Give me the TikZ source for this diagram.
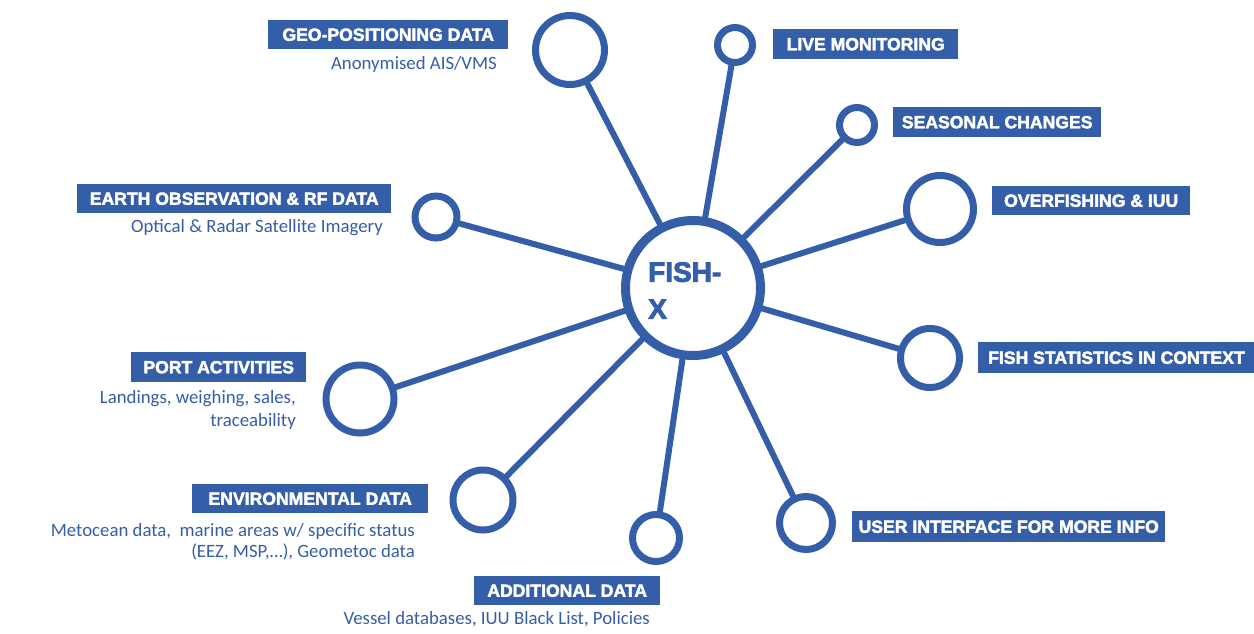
\documentclass[tikz,border=0pt]{standalone}
\usepackage{fontspec}
\setmainfont{Carlito}
\newfontfamily\headfont{Liberation Sans}[BoldFeatures={FakeBold=2.5}]
\newfontfamily\hubfont{Liberation Sans}[BoldFeatures={FakeBold=3}]
\usetikzlibrary{backgrounds}
\definecolor{fx}{RGB}{52,94,168}
\begin{document}
\begin{tikzpicture}[x=1pt,y=-1pt,
  sat/.style={circle, draw=fx, line width=7pt, fill=white, inner sep=0pt, minimum size=#1},
  hubst/.style={circle, draw=fx, line width=9pt, fill=white, inner sep=0pt, minimum size=135pt},
  link/.style={draw=fx, line width=6pt, shorten <=-3pt, shorten >=-3pt},
  head/.style={fill=fx, text=white, font=\headfont\bfseries\fontsize{17.6}{20}\selectfont, inner sep=0pt, anchor=north west, minimum height=#1},
  head/.default=29pt,
  sub/.style={text=fx, font=\fontsize{18.8}{22}\selectfont, inner sep=0pt, anchor=base east}]
\useasboundingbox (0,0) rectangle (1254,633);

% hub
\node[hubst] (hub) at (693,288) {};
\node[text=fx, font=\hubfont\bfseries\fontsize{28}{37}\selectfont, align=left, inner sep=0pt, anchor=north west] (hubtext) at (648,262) {FISH-\\X};

% satellites
\node[sat=69pt] (geo) at (570,50) {};
\node[sat=35pt] (live) at (735,45) {};
\node[sat=35pt] (seas) at (857,125) {};
\node[sat=67pt] (over) at (940,209) {};
\node[sat=59pt] (stats) at (930,358) {};
\node[sat=53pt] (user) at (806,523) {};
\node[sat=47pt] (add) at (656,538) {};
\node[sat=60pt] (env) at (483,500) {};
\node[sat=68pt] (port) at (360,399) {};
\node[sat=42pt] (earth) at (436,217) {};

\begin{scope}[on background layer]
\foreach \s in {geo,live,seas,over,stats,user,add,env,port,earth}
  \draw[link] (\s) -- (hub);
\end{scope}

% headings
\node[head, minimum width=240pt] (geoh) at (268,20) {GEO-POSITIONING DATA};
\node[head=30pt, minimum width=185pt] (liveh) at (773,29) {LIVE MONITORING};
\node[head=30pt, minimum width=208pt] (seash) at (893,107) {SEASONAL CHANGES};
\node[head, minimum width=198pt] (overh) at (992,186) {OVERFISHING \& IUU};
\node[head=31pt, inner xsep=10pt] (statsh) at (978,342) {FISH STATISTICS IN CONTEXT};
\node[head=31pt, minimum width=313pt] (userh) at (852,511) {USER INTERFACE FOR MORE INFO};
\node[head, minimum width=186pt] (addh) at (474,576) {ADDITIONAL DATA};
\node[head, minimum width=236pt] (envh) at (192,484) {ENVIRONMENTAL DATA};
\node[head, minimum width=314pt] (earthh) at (77,184) {EARTH OBSERVATION \& RF DATA};
\node[head=30pt, minimum width=175pt] (porth) at (131,352) {PORT ACTIVITIES};

% subtitles
\node[sub] (geos) at (497,69) {Anonymised AIS/VMS};
\node[sub] (earths) at (383,232) {Optical \& Radar Satellite Imagery};
\node[sub] (portsa) at (296,403) {Landings, weighing, sales,};
\node[sub] (portsb) at (296,426) {traceability};
\node[sub] (envsa) at (415,536) {Metocean data,~ marine areas w/ specific status};
\node[sub] (envsb) at (415,557) {(EEZ, MSP,…), Geometoc data};
\node[sub] (adds) at (650,624) {Vessel databases, IUU Black List, Policies};
\end{tikzpicture}
\end{document}
